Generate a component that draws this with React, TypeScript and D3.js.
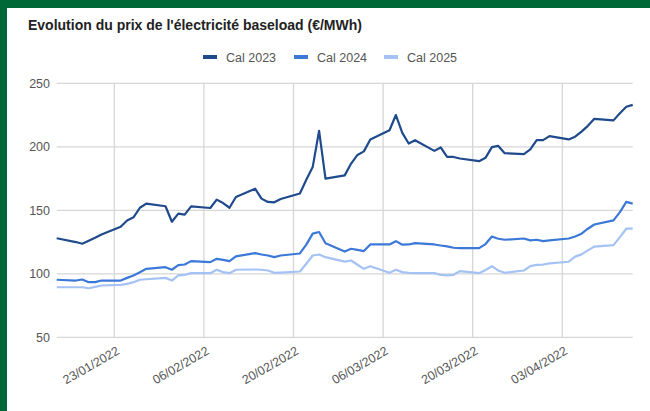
import React from 'react';
import * as d3 from 'd3';

// trading days (mm-dd, 2022)
const days = [
  '01-14', '01-17', '01-18', '01-19', '01-20', '01-21', '01-24', '01-25', '01-26', '01-27', '01-28', '01-31',
  '02-01', '02-02', '02-03', '02-04', '02-07', '02-08', '02-09', '02-10', '02-11', '02-14', '02-15', '02-16',
  '02-17', '02-18', '02-21', '02-22', '02-23', '02-24', '02-25', '02-28',
  '03-01', '03-02', '03-03', '03-04', '03-07', '03-08', '03-09', '03-10', '03-11', '03-14', '03-15', '03-16',
  '03-17', '03-18', '03-21', '03-22', '03-23', '03-24', '03-25', '03-28', '03-29', '03-30', '03-31',
  '04-01', '04-04', '04-05', '04-06', '04-07', '04-08', '04-11', '04-12', '04-13', '04-14'
];

const cal2023 = [
  128, 125, 123.7, 126, 128.4, 131, 137, 142, 144.5, 152, 155.3, 153.2,
  141, 147.4, 146.6, 153.1, 151.8, 158.4, 155.7, 152, 160.5, 167, 159.2, 156.6,
  156.3, 158.9, 163.2, 174, 184, 212.6, 175, 177.5,
  186.8, 193.6, 196.4, 205.8, 213, 225, 211, 202.6, 205.2, 196.8, 199.5, 192,
  192, 190.8, 188.7, 191.3, 199.7, 200.7, 195, 194.2, 197.9, 205.2, 205.2,
  208.4, 205.8, 208, 212, 216.5, 222, 220.8, 226.4, 231.5, 233
];

const cal2024 = [
  95.3, 94.7, 95.5, 93.4, 93.4, 94.7, 94.7, 96.8, 98.7, 101.3, 103.9, 105.2,
  103.2, 106.8, 107.3, 110, 109.2, 111.8, 111, 110, 113.7, 116.3, 115.2, 114.4,
  113.1, 114.4, 116, 123, 131.6, 132.9, 124, 117.5,
  119.7, 118.9, 117.9, 123.1, 123.1, 125.7, 122.9, 123.1, 124.2, 123.1, 122.3, 121.6,
  120.5, 120.2, 120.2, 123.4, 129.4, 127.6, 126.8, 127.8, 126.3, 126.8, 125.7,
  126.3, 127.8, 129.4, 131.6, 135.5, 138.8, 142.1, 148.6, 156.6, 155.3
];

const cal2025 = [
  89.4, 89.4, 89.4, 88.6, 89.7, 90.8, 91.3, 92.1, 93.4, 95.3, 95.7, 96.8,
  94.7, 98.7, 99.2, 100.5, 100.5, 103.2, 101.3, 100.5, 103.2, 103.4, 103.2, 102.6,
  100.8, 101, 101.8, 107.9, 114.4, 115.2, 113.1, 109.6,
  110.5, 107.1, 103.9, 106, 100.8, 103.2, 101.3, 100.8, 100.5, 100.5, 99.2, 98.7,
  99.2, 102.1, 100.5, 103, 106, 102.6, 100.8, 102.6, 106, 107, 107.3,
  108.2, 109.5, 113.5, 115.3, 118.4, 121.4, 122.6, 128.9, 135.5, 135.5
];

const seriesNames = ['Cal 2023', 'Cal 2024', 'Cal 2025'];
const seriesColors = ['#1f4a8c', '#3c78d8', '#a4c2f4'];
const yTicks = [50, 100, 150, 200, 250];
const xTicks = ['01-23', '02-06', '02-20', '03-06', '03-20', '04-03'];

const toDate = (s: string) => new Date(2022, +s.slice(0, 2) - 1, +s.slice(3, 5));

const App = () => {
  const W = 650, H = 411;
  const left = 56.7, right = 632.7, top = 83.3, bottom = 337.3;
  const font = 'Arial, "Liberation Sans", sans-serif';

  const x = d3.scaleTime().domain([toDate('01-14'), toDate('04-14')]).range([left, right]);
  const y = d3.scaleLinear().domain([50, 250]).range([bottom, top]);
  const fmt = d3.timeFormat('%d/%m/%Y');

  const dates = days.map(toDate);
  const all = [cal2023, cal2024, cal2025];
  const line = d3.line<number>().x((d, i) => x(dates[i])).y(d => y(d));

  // legend layout
  const legendX = [203, 294, 384];

  return (
    <div style={{ position: 'absolute', left: 0, top: 0 }}>
      <svg width={W} height={H} style={{ display: 'block' }}>
        <rect x={0} y={0} width={W} height={H} fill="#006837" />
        <rect x={7} y={8} width={W - 7} height={H - 8} fill="#ffffff" />

        <text x={28} y={30} style={{ fontFamily: font, fontSize: '14px', fontWeight: 'bold', fill: '#222' }}>
          Evolution du prix de l'électricité baseload (€/MWh)
        </text>

        {seriesNames.map((n, i) => (
          <g key={n} transform={`translate(${legendX[i]},57)`}>
            <line x1={0} x2={14} y1={0} y2={0} stroke={seriesColors[i]} strokeWidth={4} />
            <text x={23} y={4.5} style={{ fontFamily: font, fontSize: '12.5px', fill: '#555' }}>{n}</text>
          </g>
        ))}

        {yTicks.map(t => (
          <g key={t}>
            <line x1={left} x2={right} y1={y(t)} y2={y(t)} stroke="#d6d6d6" strokeWidth={1.3} />
            <text x={50} y={y(t) + 4.5} textAnchor="end" style={{ fontFamily: font, fontSize: '12.5px', fill: '#555' }}>{t}</text>
          </g>
        ))}

        {xTicks.map(s => {
          const px = x(toDate(s));
          return (
            <g key={s}>
              <line x1={px} x2={px} y1={top} y2={bottom} stroke="#d6d6d6" strokeWidth={1.3} />
              <text transform={`translate(${px + 6},${bottom + 16}) rotate(-30)`} textAnchor="end"
                style={{ fontFamily: font, fontSize: '12.5px', fill: '#555' }}>{fmt(toDate(s))}</text>
            </g>
          );
        })}

        {all.slice().reverse().map((s, j) => {
          const i = all.length - 1 - j;
          return (
            <path key={i} d={line(s) || ''} fill="none" stroke={seriesColors[i]} strokeWidth={2.2}
              strokeLinejoin="round" />
          );
        })}
      </svg>
    </div>
  );
};

export default App;
